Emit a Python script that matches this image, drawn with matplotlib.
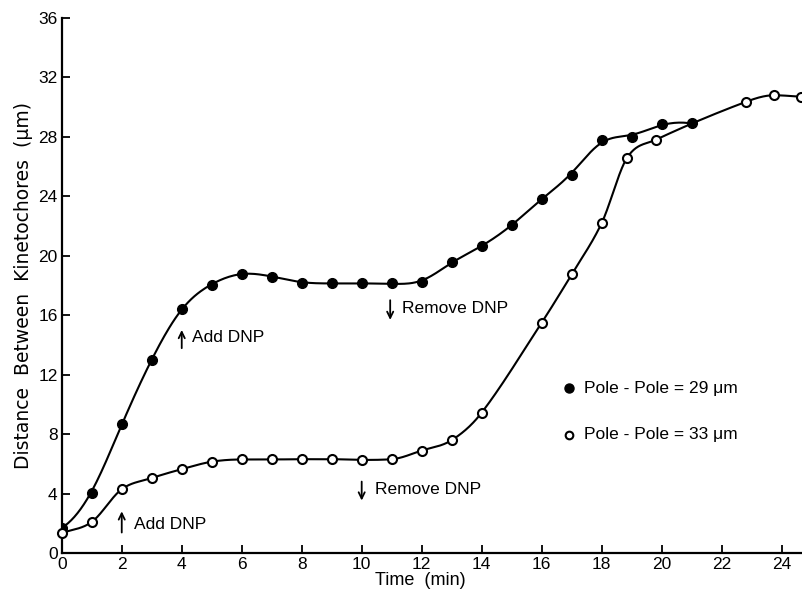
import numpy as np
import matplotlib
matplotlib.use("Agg")
import matplotlib.pyplot as plt

# Data (time in min, distance in um)
t_closed = [0, 1, 2, 3, 4, 5, 6, 7, 8, 9, 10, 11, 12, 13, 14, 15, 16, 17, 18, 19, 20, 21]
d_closed = [1.7, 4.05, 8.7, 13.0, 16.45, 18.05, 18.8, 18.6, 18.2, 18.15, 18.15, 18.15, 18.25,
            19.6, 20.65, 22.05, 23.85, 25.45, 27.8, 28.0, 28.85, 28.9]

t_open = [0, 1, 2, 3, 4, 5, 6, 7, 8, 9, 10, 11, 12, 13, 14, 16, 17, 18, 18.85, 19.8, 22.8, 23.75, 24.65]
d_open = [1.35, 2.1, 4.3, 5.05, 5.65, 6.15, 6.3, 6.3, 6.32, 6.32, 6.27, 6.32, 6.9,
          7.6, 9.45, 15.5, 18.75, 22.2, 26.6, 27.8, 30.35, 30.8, 30.7]

x_ticks = list(range(0, 25, 2))
y_ticks = list(range(0, 37, 4))


def smooth(x, y, h=0.75, n=400):
    # local quadratic fit (gaussian weights), gives the hand-drawn look
    x = np.asarray(x, float)
    y = np.asarray(y, float)
    xs = np.linspace(x[0], x[-1], n)
    ys = np.empty(n)
    for i, x0 in enumerate(xs):
        w = np.sqrt(np.exp(-0.5 * ((x - x0) / h) ** 2))
        A = np.vstack([(x - x0) ** k for k in range(3)]).T
        ys[i] = np.linalg.lstsq(A * w[:, None], y * w, rcond=None)[0][0]
    return xs, ys


def hermite(x, y, per=40):
    # Fritsch-Carlson style cubic through the points (centred slopes, limited)
    x = np.asarray(x, float)
    y = np.asarray(y, float)
    hk = np.diff(x)
    d = np.diff(y) / hk
    m = np.zeros_like(y)
    m[0], m[-1] = d[0], d[-1]
    for k in range(1, len(x) - 1):
        if d[k - 1] * d[k] > 0:
            m[k] = (y[k + 1] - y[k - 1]) / (x[k + 1] - x[k - 1])
    for k in range(len(d)):
        if d[k] == 0:
            m[k] = m[k + 1] = 0
            continue
        a, b = m[k] / d[k], m[k + 1] / d[k]
        r = a * a + b * b
        if r > 9:
            t = 3 / np.sqrt(r)
            m[k], m[k + 1] = t * a * d[k], t * b * d[k]
    xs, ys = [], []
    for k in range(len(x) - 1):
        s = np.linspace(0, 1, per)
        h00 = 2 * s**3 - 3 * s**2 + 1
        h10 = s**3 - 2 * s**2 + s
        h01 = -2 * s**3 + 3 * s**2
        h11 = s**3 - s**2
        xs.append(x[k] + s * hk[k])
        ys.append(h00 * y[k] + h10 * hk[k] * m[k] + h01 * y[k + 1] + h11 * hk[k] * m[k + 1])
    return np.concatenate(xs), np.concatenate(ys)


plt.rcParams['font.family'] = ['Liberation Sans', 'DejaVu Sans']

fig = plt.figure(figsize=(8.02, 5.98), dpi=100)
ax = fig.add_axes([0.077, 0.075, 0.923, 0.895])

cx, cy = smooth(t_closed, d_closed)
ax.plot(cx, cy, color='black', lw=1.5, zorder=2)
ox, oy = hermite(t_open, d_open)
ax.plot(ox, oy, color='black', lw=1.5, zorder=2, clip_on=False)

ax.plot(t_closed, d_closed, 'o', color='black', ms=7, zorder=3)
ax.plot(t_open, d_open, 'o', mfc='white', mec='black', mew=1.5, ms=6.5, zorder=3, clip_on=False)

# arrows and labels
arr = dict(arrowstyle='->,head_length=0.45,head_width=0.22', color='black', lw=1.3)
fs = 12.5
ax.annotate('', xy=(4.0, 15.2), xytext=(4.0, 13.6), arrowprops=arr)
ax.text(4.35, 14.5, 'Add DNP', fontsize=fs, va='center')
ax.annotate('', xy=(2.0, 3.0), xytext=(2.0, 1.2), arrowprops=arr)
ax.text(2.4, 1.9, 'Add DNP', fontsize=fs, va='center')
ax.annotate('', xy=(10.95, 15.5), xytext=(10.95, 17.2), arrowprops=arr)
ax.text(11.35, 16.45, 'Remove DNP', fontsize=fs, va='center')
ax.annotate('', xy=(10.0, 3.35), xytext=(10.0, 5.0), arrowprops=arr)
ax.text(10.45, 4.3, 'Remove DNP', fontsize=fs, va='center')

# key
ax.plot([16.9], [11.1], 'o', color='black', ms=6.5)
ax.text(17.4, 11.1, 'Pole - Pole = 29 μm', fontsize=fs, va='center')
ax.plot([16.9], [7.95], 'o', mfc='white', mec='black', mew=1.5, ms=5.5)
ax.text(17.4, 7.95, 'Pole - Pole = 33 μm', fontsize=fs, va='center')

ax.set_xlim(0, 24.68)
ax.set_ylim(0, 36)
ax.set_xticks(x_ticks)
ax.set_yticks(y_ticks)
ax.tick_params(direction='in', length=6, width=1.3, labelsize=12.5, pad=3)
for s in ('top', 'right'):
    ax.spines[s].set_visible(False)
for s in ('left', 'bottom'):
    ax.spines[s].set_linewidth(1.6)
ax.set_xlabel('Time  (min)', fontsize=13)
ax.xaxis.set_label_coords(0.484, -0.035)
ax.set_ylabel('Distance  Between  Kinetochores  (μm)', fontsize=13.5,
              family=['DejaVu Sans'], labelpad=4)

fig.savefig('out.png', dpi=100)
